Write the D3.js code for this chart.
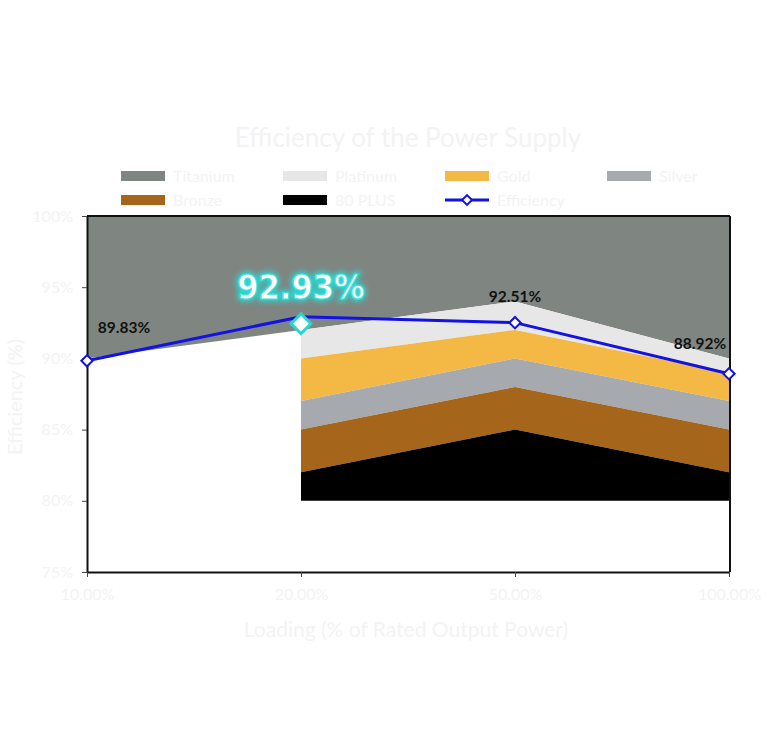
<!DOCTYPE html>
<html>
<head>
<meta charset="utf-8">
<script src="https://cdn.jsdelivr.net/npm/d3@7"></script>
<style>
body{margin:0;background:#fff;}
svg{display:block;}
.lbl{font-family:Lato,"Open Sans",sans-serif;}
.pale{fill:#f3f3f3;}
</style>
</head>
<body>
<div id="chart"></div>
<script>
var w = 768;
var h = 732;

// loading points (x categories)
var loads = ["10.00%", "20.00%", "50.00%", "100.00%"];
// 80 PLUS thresholds, null = no requirement at that load
var plus80   = [null, 80, 80, 80];
var bronze   = [null, 82, 85, 82];
var silver   = [null, 85, 88, 85];
var gold     = [null, 87, 90, 87];
var platinum = [null, 90, 92, 89];
var titanium = [90, 92, 94, 90];
var topLine  = [100, 100, 100, 100];
var efficiency = [89.83, 92.93, 92.51, 88.92];
var yTicks = [75, 80, 85, 90, 95, 100];
var highlight = 1;

var bands = [
  {name: "Titanium", lo: titanium, hi: topLine, color: "#7f8682"},
  {name: "Platinum", lo: platinum, hi: titanium, color: "#e7e7e7"},
  {name: "Gold", lo: gold, hi: platinum, color: "#f4b945"},
  {name: "Silver", lo: silver, hi: gold, color: "#a6a9ae"},
  {name: "Bronze", lo: bronze, hi: silver, color: "#a5661b"},
  {name: "80 PLUS", lo: plus80, hi: bronze, color: "#000000"}
];
var legendOrder = ["Titanium", "Platinum", "Gold", "Silver", "Bronze", "80 PLUS", "Efficiency"];

var padLeft = 87, padRight = 729, padTop = 216, padBottom = 572;

var xScale = d3.scalePoint().domain(loads).range([padLeft, padRight]);
var yScale = d3.scaleLinear().domain([75, 100]).range([padBottom, padTop]);

var svg = d3.select("#chart").append("svg").attr("width", w).attr("height", h);

var defs = svg.append("defs");
var glow = defs.append("filter").attr("id", "glow").attr("x", "-20%").attr("y", "-40%").attr("width", "140%").attr("height", "180%");
glow.append("feGaussianBlur").attr("stdDeviation", 2.5);

// bands
bands.forEach(function(b){
  var area = d3.area()
    .defined(function(d, i){ return b.lo[i] !== null && b.hi[i] !== null; })
    .x(function(d){ return xScale(d); })
    .y0(function(d, i){ return yScale(b.lo[i]); })
    .y1(function(d, i){ return yScale(b.hi[i]); });
  svg.append("path")
    .datum(loads)
    .attr("d", area)
    .attr("fill", b.color);
});

// axes
var yAxis = svg.append("g")
  .attr("transform", "translate(" + padLeft + ",0)")
  .call(d3.axisLeft(yScale).tickValues(yTicks).tickSize(5).tickSizeOuter(0).tickFormat(function(d){ return d + "%"; }));
var xAxis = svg.append("g")
  .attr("transform", "translate(0," + padBottom + ")")
  .call(d3.axisBottom(xScale).tickSize(5).tickSizeOuter(0));
[yAxis, xAxis].forEach(function(a){
  a.select(".domain").attr("stroke", "#111").attr("stroke-width", 2);
  a.selectAll(".tick line").attr("stroke", "#444");
  a.selectAll(".tick text").attr("class", "lbl pale").attr("fill", "#f3f3f3").style("font-size", "16px");
});
yAxis.selectAll(".tick text").attr("x", -14);
xAxis.selectAll(".tick text").attr("y", 17);

// frame top and right
svg.append("line").attr("x1", padLeft).attr("x2", padRight + 1).attr("y1", padTop).attr("y2", padTop).attr("stroke", "#111").attr("stroke-width", 2);
svg.append("line").attr("x1", padRight + 1).attr("x2", padRight + 1).attr("y1", padTop).attr("y2", padBottom).attr("stroke", "#111").attr("stroke-width", 2);

// efficiency line
var line = d3.line().x(function(d){ return xScale(d); }).y(function(d, i){ return yScale(efficiency[i]); });
svg.append("path").datum(loads).attr("d", line).attr("fill", "none").attr("stroke", "#1212e2").attr("stroke-width", 3);

loads.forEach(function(d, i){
  if (i === highlight) return;
  svg.append("rect")
    .attr("x", -4).attr("y", -4).attr("width", 8).attr("height", 8)
    .attr("transform", "translate(" + xScale(d) + "," + yScale(efficiency[i]) + ") rotate(45)")
    .attr("fill", "#fff").attr("stroke", "#1212e2").attr("stroke-width", 2);
});

// data labels
var labelPos = [
  {dx: 37, dy: -28},
  {dx: 0, dy: -20},
  {dx: 0, dy: -21},
  {dx: -29, dy: -25}
];
loads.forEach(function(d, i){
  if (i === highlight) return;
  svg.append("text")
    .attr("class", "lbl")
    .attr("x", xScale(d) + labelPos[i].dx)
    .attr("y", yScale(efficiency[i]) + labelPos[i].dy)
    .attr("text-anchor", "middle")
    .style("font-size", "15.5px").style("font-weight", "bold")
    .attr("fill", "#111")
    .text(efficiency[i].toFixed(2) + "%");
});

// highlighted point
var hx = xScale(loads[highlight]), hy = yScale(efficiency[highlight]);
svg.append("rect")
  .attr("x", -7).attr("y", -7).attr("width", 14).attr("height", 14)
  .attr("transform", "translate(" + hx + "," + (hy + 7) + ") rotate(45)")
  .attr("fill", "#fff").attr("stroke", "#2ad6cf").attr("stroke-width", 3);
var hl = efficiency[highlight].toFixed(2) + "%";
var hlFont = "'DejaVu Sans Condensed','Liberation Sans Narrow','Roboto',sans-serif";
svg.append("text")
  .attr("x", hx).attr("y", hy - 18)
  .attr("text-anchor", "middle")
  .style("font-family", hlFont)
  .style("font-size", "34px").style("font-weight", "900")
  .attr("fill", "#2ad6cf").attr("stroke", "#2ad6cf").attr("stroke-width", 5)
  .attr("filter", "url(#glow)")
  .text(hl);
svg.append("text")
  .attr("x", hx).attr("y", hy - 18)
  .attr("text-anchor", "middle")
  .style("font-family", hlFont)
  .style("font-size", "34px").style("font-weight", "900")
  .attr("fill", "#fff").attr("stroke", "#3fe3db").attr("stroke-width", 1)
  .text(hl);

// title and axis titles
svg.append("text").attr("class", "lbl pale")
  .attr("x", 408).attr("y", 147).attr("text-anchor", "middle")
  .style("font-size", "26px").text("Efficiency of the Power Supply");
svg.append("text").attr("class", "lbl pale")
  .attr("x", 406).attr("y", 637).attr("text-anchor", "middle")
  .style("font-size", "21px").text("Loading (% of Rated Output Power)");
svg.append("text").attr("class", "lbl pale")
  .attr("transform", "translate(22,397) rotate(-90)")
  .attr("text-anchor", "middle")
  .style("font-size", "20px").text("Efficiency (%)");

// legend
var colorOf = {};
bands.forEach(function(b){ colorOf[b.name] = b.color; });
legendOrder.forEach(function(name, i){
  var lx = 121 + (i % 4) * 162;
  var ly = 176 + Math.floor(i / 4) * 24;
  var g = svg.append("g").attr("transform", "translate(" + lx + "," + ly + ")");
  if (name === "Efficiency") {
    g.append("line").attr("x1", 0).attr("x2", 44).attr("y1", 0).attr("y2", 0)
      .attr("stroke", "#1212e2").attr("stroke-width", 3);
    g.append("rect").attr("x", -3.5).attr("y", -3.5).attr("width", 7).attr("height", 7)
      .attr("transform", "translate(22,0) rotate(45)")
      .attr("fill", "#fff").attr("stroke", "#1212e2").attr("stroke-width", 2);
  } else {
    g.append("rect").attr("x", 0).attr("y", -5).attr("width", 44).attr("height", 10)
      .attr("fill", colorOf[name]);
  }
  g.append("text").attr("class", "lbl pale")
    .attr("x", 52).attr("y", 6)
    .style("font-size", "16px").text(name);
});
</script>
</body>
</html>
